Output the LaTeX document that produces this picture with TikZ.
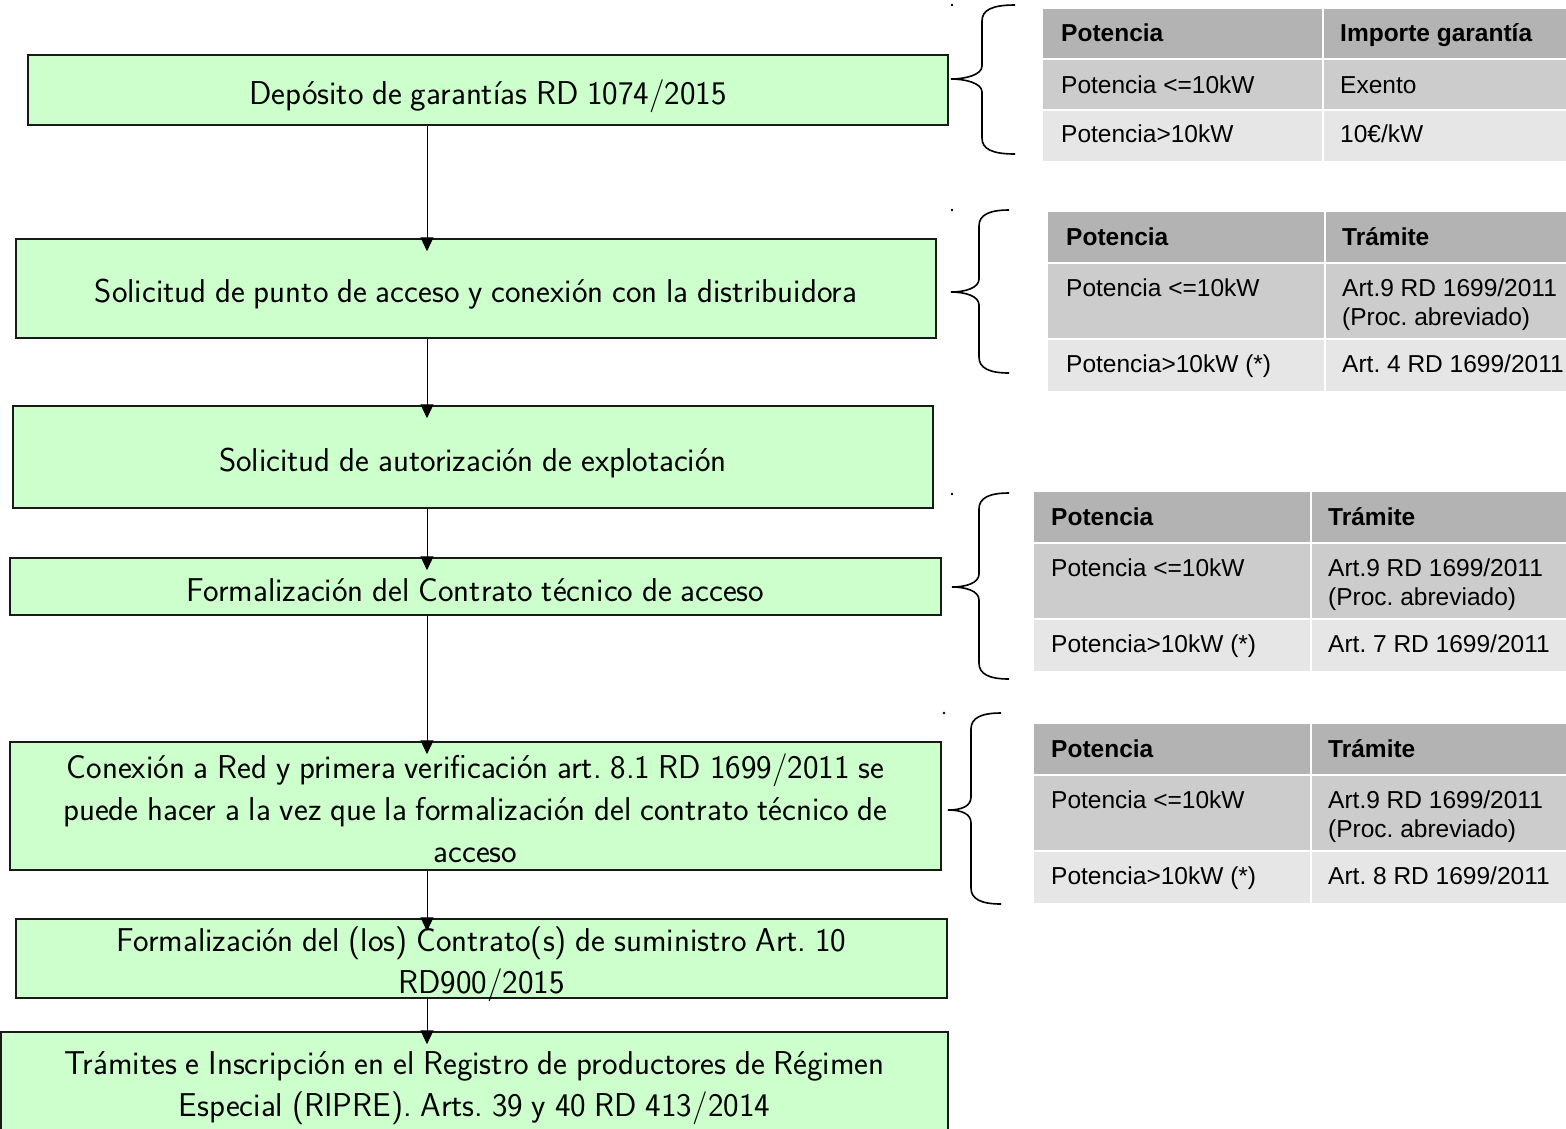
\documentclass[tikz,border=0pt]{standalone}
\usepackage{fontspec}
\usetikzlibrary{arrows.meta}
\newfontfamily\tablafont{Liberation Sans}
\newfontfamily\pasofamily{lmsans17-regular.otf}[WordSpace=0.85]
\newcommand\pasofont{\pasofamily\frenchspacing\fontsize{33}{42}\selectfont}
\newcommand\tabfont{\tablafont\frenchspacing\fontsize{24.5}{29}\selectfont}
\definecolor{verdepaso}{HTML}{CCFFCC}
\definecolor{grisA}{HTML}{B3B3B3}
\definecolor{grisB}{HTML}{CCCCCC}
\definecolor{grisC}{HTML}{E6E6E6}
% brace: x end, x middle, x tip, y top, y tip, y bottom
\newcommand{\llave}[6]{%
  \draw[llavest] (#1,#4) .. controls ({#2+10},#4) and (#2,{#4+5}) .. (#2,{#4+16})
    -- (#2,{#5-13}) .. controls (#2,{#5-4}) and ({#3+14},#5) .. (#3,#5)
    .. controls ({#3+14},#5) and (#2,{#5+4}) .. (#2,{#5+13})
    -- (#2,{#6-16}) .. controls (#2,{#6-5}) and ({#2+10},#6) .. (#1,#6);}
% table rows: x left, x split, y top, y header bottom, y row bottom, y bottom
\newcommand{\filas}[6]{%
  \fill[grisA] (#1,#3) rectangle (1566,#4);
  \fill[grisB] (#1,#4) rectangle (1566,#5);
  \fill[grisC] (#1,#5) rectangle (1566,#6);
  \draw[white, line width=2pt] (#2,#3) -- (#2,#6) (#1,#4) -- (1566,#4) (#1,#5) -- (1566,#5);}
\tikzset{
  paso/.style={draw=black!90, line width=1.5pt, fill=verdepaso, inner sep=0pt},
  texto/.style={align=center, font=\pasofont, inner sep=0pt, yshift=-6pt},
  flecha/.style={line width=1pt, -{Triangle[length=14pt,width=13pt]}, shorten >=-13pt},
  llavest/.style={line width=1.6pt},
  celda/.style={anchor=base west, inner sep=0pt, align=left, font=\tabfont},
  cab/.style={celda, font=\tabfont\bfseries}
}
\begin{document}
\begin{tikzpicture}[x=1pt,y=-1pt]
  \useasboundingbox (0,0) rectangle (1566,1128);
  \clip (0,0) rectangle (1566,1128);

  % steps
  \node[paso, minimum width=920, minimum height=70, label={[texto]center:Depósito de garantías RD 1074/2015}] (b1) at (488,90) {};
  \node[paso, minimum width=920, minimum height=99, label={[texto]center:Solicitud de punto de acceso y conexión con la distribuidora}] (b2) at (476,288.5) {};
  \node[paso, minimum width=920, minimum height=102, label={[texto]center:Solicitud de autorización de explotación}] (b3) at (473,457) {};
  \node[paso, minimum width=931, minimum height=57, label={[texto, yshift=2pt]center:Formalización del Contrato técnico de acceso}] (b4) at (475.5,586.5) {};
  \node[paso, minimum width=931, minimum height=128, label={[texto, yshift=4pt]center:{Conexión a Red y primera verificación art. 8.1 RD 1699/2011 se\\ puede hacer a la vez que la formalización del contrato técnico de\\ acceso}}] (b5) at (475.5,806) {};
  \node[paso, minimum width=931, minimum height=79, label={[texto]center:{Formalización del (los) Contrato(s) de suministro Art. 10\\ RD900/2015}}] (b6) at (481.5,958.5) {};
  \node[paso, minimum width=947, minimum height=105, label={[texto, yshift=2pt]center:{Trámites e Inscripción en el Registro de productores de Régimen\\ Especial (RIPRE). Arts. 39 y 40 RD 413/2014}}] (b7) at (474.5,1084.5) {};

  \coordinate (eje) at (427,0);
  \foreach \a/\b in {b1/b2,b2/b3,b3/b4,b4/b5,b5/b6,b6/b7}
    \draw[flecha] (\a.south -| eje) -- (\b.north -| eje);

  % braces
  \llave{1015}{982}{951}{5}{79}{154}
  \llave{1009}{979}{951}{210}{292}{373}
  \llave{1009}{979}{952}{493}{587}{679}
  \llave{1001}{971}{948}{713}{810}{904}
  \foreach \p in {(952,5),(952,210),(952,494),(944,713)}
    \fill \p circle (1.3);

  % table 1
  \filas{1043}{1323}{9}{59}{110}{161}
  \node[cab] (t1a) at (1061,41) {Potencia};
  \node[cab] (t1b) at (1340,41) {Importe garantía};
  \node[celda] (t1c) at (1061,93) {Potencia <=10kW};
  \node[celda] (t1d) at (1340,93) {Exento};
  \node[celda] (t1e) at (1061,142) {Potencia>10kW};
  \node[celda] (t1f) at (1340,142) {10€/kW};

  % table 2
  \filas{1048}{1325}{212}{263}{339}{391}
  \node[cab] (t2a) at (1066,245) {Potencia};
  \node[cab] (t2b) at (1342,245) {Trámite};
  \node[celda] (t2c) at (1066,296) {Potencia <=10kW};
  \node[celda] (t2d) at (1342,325) {Art.9 RD 1699/2011\\(Proc. abreviado)};
  \node[celda] (t2e) at (1066,372) {Potencia>10kW (*)};
  \node[celda] (t2f) at (1342,372) {Art. 4 RD 1699/2011};

  % table 3
  \filas{1034}{1311}{492}{543}{619}{671}
  \node[cab] (t3a) at (1051,525) {Potencia};
  \node[cab] (t3b) at (1328,525) {Trámite};
  \node[celda] (t3c) at (1051,576) {Potencia <=10kW};
  \node[celda] (t3d) at (1328,605) {Art.9 RD 1699/2011\\(Proc. abreviado)};
  \node[celda] (t3e) at (1051,652) {Potencia>10kW (*)};
  \node[celda] (t3f) at (1328,652) {Art. 7 RD 1699/2011};

  % table 4
  \filas{1034}{1311}{724}{775}{851}{903}
  \node[cab] (t4a) at (1051,757) {Potencia};
  \node[cab] (t4b) at (1328,757) {Trámite};
  \node[celda] (t4c) at (1051,808) {Potencia <=10kW};
  \node[celda] (t4d) at (1328,837) {Art.9 RD 1699/2011\\(Proc. abreviado)};
  \node[celda] (t4e) at (1051,884) {Potencia>10kW (*)};
  \node[celda] (t4f) at (1328,884) {Art. 8 RD 1699/2011};
\end{tikzpicture}
\end{document}
